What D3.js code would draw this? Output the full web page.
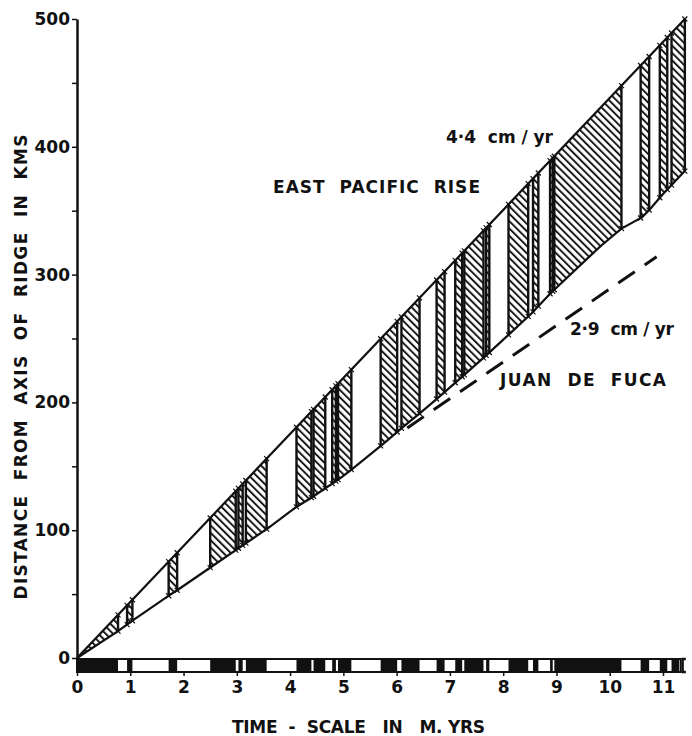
<!DOCTYPE html>
<html lang="en">
<head>
<meta charset="UTF-8">
<title>East Pacific Rise and Juan de Fuca spreading</title>
<style>
* { box-sizing: border-box; margin: 0; padding: 0; }
body { background: #fff; }
svg { display: block; }
text { font-family: "DejaVu Sans", sans-serif; font-weight: bold; fill: #111; }
.axis path, .axis line { stroke: #111; }
.axis text { font-size: 17px; font-family: "DejaVu Sans", sans-serif; }
.ridge { fill: none; stroke: #111; stroke-width: 2.2px; }
.tie { stroke: #111; stroke-width: 2.4px; }
.mark { stroke: #111; stroke-width: 1.2px; }
.juan { fill: none; stroke: #111; stroke-width: 3px; stroke-dasharray: 20 12; }
.label { font-size: 17px; white-space: pre; }
</style>
</head>
<body>
<svg width="692" height="736"></svg>
<script src="https://cdn.jsdelivr.net/npm/d3@7"></script>
<script>
// normal polarity intervals (M yrs), black in the bar, hatched in the plot
const normalIntervals = [
  [0, 0.77], [0.94, 1.04], [1.72, 1.88], [2.50, 2.98], [3.03, 3.11],
  [3.17, 3.56], [4.12, 4.40], [4.44, 4.66], [4.79, 4.86], [4.90, 5.15],
  [5.70, 6.01], [6.09, 6.43], [6.75, 6.90], [7.10, 7.23], [7.27, 7.63],
  [7.68, 7.74], [8.10, 8.47], [8.56, 8.66], [8.88, 8.93], [8.96, 10.22],
  [10.58, 10.74], [10.94, 11.08], [11.16, 11.30]
];
const barEnd = 11.33;

// East Pacific Rise, 4.4 cm/yr  [time, km]
const eprLine = [[0, 0], [11.41, 500]];

// Juan de Fuca measured distances  [time, km]
const lowerLine = [
  [0, 0], [0.77, 21], [1.0, 28], [1.73, 49], [1.88, 53], [2.51, 71],
  [3.07, 87], [3.6, 102], [4.11, 118], [4.42, 126], [4.95, 141],
  [5.17, 148], [5.76, 168], [6.1, 180], [6.45, 192], [6.76, 203],
  [7.2, 219], [7.66, 236], [8.13, 254], [8.54, 270], [8.88, 285],
  [9.82, 322], [10.22, 336], [10.61, 345], [10.75, 351], [11.0, 363],
  [11.41, 381]
];

// constant 2.9 cm/yr reference
const juanLine = [[6.2, 180], [10.88, 314]];

const xTicks = d3.range(0, 12);
const yTicks = d3.range(0, 501, 50);

const svg = d3.select("svg");
const x = d3.scaleLinear().domain([0, 11]).range([77, 663]);
const y = d3.scaleLinear().domain([0, 500]).range([658, 19]);

const up = d3.scaleLinear().domain(eprLine.map(d => d[0])).range(eprLine.map(d => d[1]));
const low = d3.scaleLinear().domain(lowerLine.map(d => d[0])).range(lowerLine.map(d => d[1]));
const tEnd = eprLine[eprLine.length - 1][0];

// hatch pattern
const step = 5.2;
svg.append("defs").append("pattern")
  .attr("id", "hatch")
  .attr("patternUnits", "userSpaceOnUse")
  .attr("width", step).attr("height", step)
  .attr("patternTransform", "rotate(-45)")
  .append("line")
  .attr("x1", 1).attr("y1", 0).attr("x2", 1).attr("y2", step)
  .attr("stroke", "#111").attr("stroke-width", 1.9);

const blocks = normalIntervals.map(([a, b], i) =>
  [a, i === normalIntervals.length - 1 ? tEnd : b]);

const plot = svg.append("g");

plot.selectAll(".block")
  .data(blocks)
  .enter().append("path")
  .attr("class", "block")
  .attr("fill", "url(#hatch)")
  .attr("d", ([a, b]) => "M" + [
    [x(a), y(up(a))], [x(b), y(up(b))], [x(b), y(low(b))], [x(a), y(low(a))]
  ].join("L") + "Z");

const bounds = blocks.flat().filter(t => t > 0);

plot.selectAll(".tie")
  .data(bounds)
  .enter().append("line")
  .attr("class", "tie")
  .attr("x1", t => x(t)).attr("x2", t => x(t))
  .attr("y1", t => y(up(t))).attr("y2", t => y(low(t)));

const line = d3.line().x(d => x(d[0])).y(d => y(d[1]));

plot.append("path").attr("class", "ridge").attr("d", line(eprLine));
plot.append("path").attr("class", "ridge").attr("d", line(lowerLine));
plot.append("path").attr("class", "juan").attr("d", line(juanLine));

// little crosses at the tie ends
const corners = bounds.flatMap(t => [[t, up(t)], [t, low(t)]]);
plot.selectAll(".mark")
  .data(corners)
  .enter().append("path")
  .attr("class", "mark")
  .attr("d", d => {
    const cx = x(d[0]), cy = y(d[1]);
    return `M${cx - 2.5},${cy - 2.5}L${cx + 2.5},${cy + 2.5}M${cx - 2.5},${cy + 2.5}L${cx + 2.5},${cy - 2.5}`;
  });

// polarity bar
const barTop = y(0) + 1, barH = 13;
const bar = svg.append("g");
bar.selectAll("rect.normal")
  .data(normalIntervals)
  .enter().append("rect")
  .attr("class", "normal")
  .attr("x", d => x(d[0]))
  .attr("width", d => x(d[1]) - x(d[0]))
  .attr("y", barTop).attr("height", barH)
  .attr("fill", "#111");
bar.append("rect")
  .attr("x", x(0)).attr("width", x(barEnd) - x(0))
  .attr("y", barTop).attr("height", barH)
  .attr("fill", "none").attr("stroke", "#111").attr("stroke-width", 2);
bar.append("path")
  .attr("d", `M${x(tEnd) + 1},${barTop}H${x(barEnd) + 2}V${barTop + barH}H${x(tEnd) + 1}`)
  .attr("fill", "none").attr("stroke", "#111").attr("stroke-width", 2.5);

// axes
svg.append("g")
  .attr("class", "axis")
  .attr("transform", `translate(${x(0)},0)`)
  .call(d3.axisLeft(y).tickValues(yTicks).tickSize(5).tickSizeOuter(0).tickPadding(2)
    .tickFormat(d => d % 100 === 0 ? d : ""))
  .call(g => g.select(".domain").attr("stroke-width", 2.5))
  .call(g => g.selectAll(".tick line").attr("stroke-width", 1.5));

svg.append("g")
  .attr("class", "axis")
  .attr("transform", `translate(0,${barTop + barH})`)
  .call(d3.axisBottom(x).tickValues(xTicks).tickSize(4).tickSizeOuter(0).tickPadding(5))
  .call(g => g.select(".domain").remove())
  .call(g => g.selectAll(".tick line").attr("stroke-width", 1.5));

// labels
svg.append("text")
  .attr("class", "label")
  .attr("transform", "translate(27,367) rotate(-90)")
  .attr("text-anchor", "middle")
  .attr("textLength", 465).attr("lengthAdjust", "spacing")
  .text("DISTANCE  FROM  AXIS  OF  RIDGE  IN  KMS");

svg.append("text")
  .attr("class", "label")
  .attr("x", 232).attr("y", 733)
  .attr("textLength", 253).attr("lengthAdjust", "spacing")
  .text("TIME  -  SCALE   IN   M. YRS");

svg.append("text")
  .attr("class", "label")
  .attr("x", 273).attr("y", 193)
  .attr("textLength", 207).attr("lengthAdjust", "spacing")
  .text("EAST  PACIFIC  RISE");

svg.append("text")
  .attr("class", "label")
  .attr("x", 446).attr("y", 143)
  .attr("textLength", 107).attr("lengthAdjust", "spacing")
  .text("4·4  cm / yr");

svg.append("text")
  .attr("class", "label")
  .attr("x", 570).attr("y", 335)
  .attr("textLength", 104).attr("lengthAdjust", "spacing")
  .text("2·9  cm / yr");

svg.append("text")
  .attr("class", "label")
  .attr("x", 500).attr("y", 386)
  .attr("textLength", 166).attr("lengthAdjust", "spacing")
  .text("JUAN  DE  FUCA");
</script>
</body>
</html>
